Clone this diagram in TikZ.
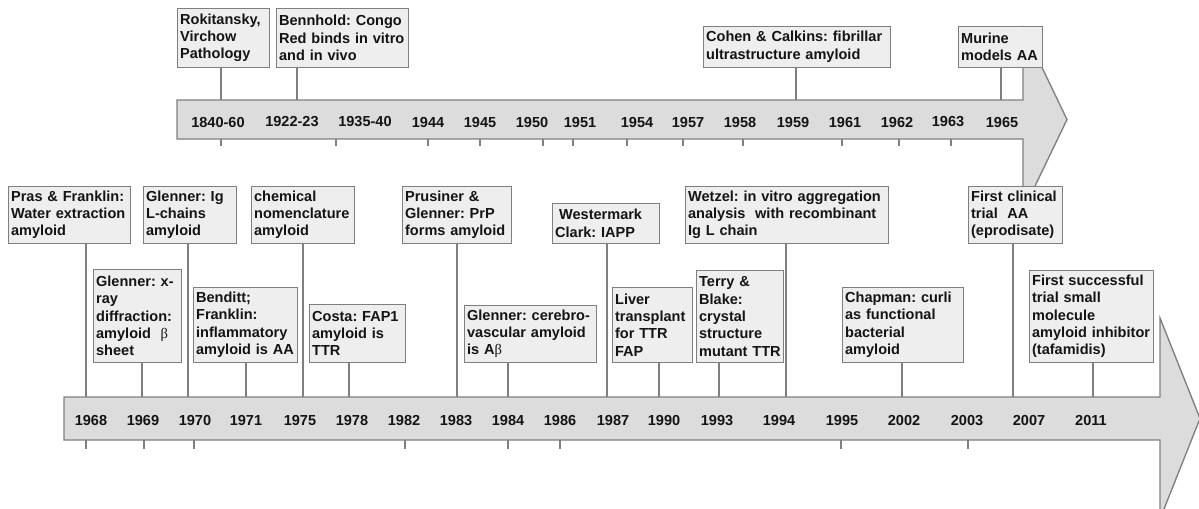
\documentclass[tikz,border=0pt]{standalone}
\usepackage{fontspec}
\setmainfont{Liberation Sans}
\newfontfamily\greekfont{Liberation Serif}
\definecolor{bandgray}{HTML}{DCDCDC}
\definecolor{boxgray}{HTML}{EEEEEE}
\definecolor{linegray}{HTML}{7F7F7F}

\begin{document}
\begin{tikzpicture}[x=0.75pt, y=-0.75pt,
  every node/.style={font=\fontsize{10.9}{13}\selectfont\bfseries\frenchspacing, text=black!92},
  event/.style={draw=linegray, fill=boxgray, line width=0.9pt, align=left, anchor=south west, inner xsep=1.9pt, inner ysep=1pt},
  stem/.style={draw=linegray, line width=1pt},
  band/.style={fill=bandgray, draw=linegray, line width=1pt, line join=miter}]

\useasboundingbox (0,0) rectangle (1199,508);

% the two time arrows
\draw[band] (177,100) -- (1023,100) -- (1023,28) -- (1067,119.5) -- (1023,211) -- (1023,139) -- (177,139) -- cycle;
\draw[band] (64,397) -- (1160,397) -- (1160,318) -- (1200,418.5) -- (1160,519) -- (1160,440) -- (64,440) -- cycle;

\foreach \yr/\x in {1840-60/218, 1922-23/292, 1935-40/365, 1944/428, 1945/480, 1950/532, 1951/580, 1954/637,
                    1957/688, 1958/740, 1959/793, 1961/845, 1962/897, 1963/948, 1965/1002}
   {
	\node (y\yr) at (\x,122) {\yr};
   };
\foreach \yr/\x in {1968/91, 1969/143, 1970/195, 1971/246, 1975/300, 1978/352, 1982/404, 1983/456, 1984/508, 1986/560,
                    1987/613, 1990/664, 1993/717, 1994/779, 1995/842, 2002/904, 2003/967, 2007/1029, 2011/1091}
   {
	\node (y\yr) at (\x,420) {\yr};
   };

% small ticks under the bands
\foreach \x in {221,336,428,480,543,573,627,683,743,842,899,951}
	\draw[stem] (\x,139) -- ++(0,7);
\foreach \x in {86,144,194,405,508,560,841,968}
	\draw[stem] (\x,440) -- ++(0,9);

% events above the upper band
\node[event, text width=65.25pt, minimum height=44.25pt] (rok) at (177,68) {Rokitansky,\\Virchow\\Pathology};
\node[event, text width=95.25pt, minimum height=44.25pt] (ben) at (276,68) {Bennhold: Congo\\Red binds in vitro\\and in vivo};
\node[event, text width=136.5pt, minimum height=30.75pt] (coh) at (703,68) {Cohen \& Calkins: fibrillar\\ultrastructure amyloid};
\node[event, text width=59.25pt, minimum height=30.75pt] (mur) at (958,68) {Murine\\models AA};

% events above the lower band, back row
\node[event, text width=87.75pt, minimum height=42.75pt] (pras) at (8,244) {Pras \& Franklin:\\Water extraction\\amyloid};
\node[event, text width=66pt, minimum height=42.75pt] (gig) at (143,244) {Glenner: Ig\\L-chains\\amyloid};
\node[event, text width=73.5pt, minimum height=42.75pt] (chem) at (251,244) {chemical\\nomenclature\\amyloid};
\node[event, text width=78pt, minimum height=42.75pt] (prus) at (402,244) {Prusiner \&\\Glenner: PrP\\forms amyloid};
\node[event, text width=76.5pt, minimum height=30pt] (west) at (552,244) {\hspace*{3pt}Westermark\\Clark: IAPP};
\node[event, text width=148.5pt, minimum height=42.75pt] (wetz) at (685,244) {Wetzel: in vitro aggregation\\analysis\ \ with recombinant\\Ig L chain};
\node[event, text width=66.75pt, minimum height=42.75pt] (fcl) at (968,244) {First clinical\\trial\ \ AA\\(eprodisate)};

% front row
\node[event, text width=62.25pt, minimum height=69.75pt] (gxr) at (93,363) {Glenner: x-\\ray\\diffraction:\\amyloid\ \ {\greekfont\mdseries β}\\sheet};
\node[event, text width=74.25pt, minimum height=56.25pt] (bnd) at (193,363) {Benditt;\\Franklin:\\inflammatory\\amyloid is AA};
\node[event, text width=68.25pt, minimum height=43.5pt] (cos) at (309,363) {Costa: FAP1\\amyloid is\\TTR};
\node[event, text width=95.25pt, minimum height=42.75pt] (gcv) at (464,363) {Glenner: cerebro-\\vascular amyloid\\is A{\greekfont\mdseries β}};
\node[event, text width=56.25pt, minimum height=56.25pt] (liv) at (612,363) {Liver\\transplant\\for TTR\\FAP};
\node[event, text width=61.5pt, minimum height=69pt] (ter) at (696,363) {Terry \&\\Blake:\\crystal\\structure\\mutant TTR};
\node[event, text width=87pt, minimum height=56.25pt] (chap) at (842,363) {Chapman: curli\\as functional\\bacterial\\amyloid};
\node[event, text width=89.25pt, minimum height=69pt] (fsu) at (1029,363) {First successful\\trial small\\molecule\\amyloid inhibitor\\(tafamidis)};

% stems down to the bands
\foreach \b/\x in {rok/221, ben/297, coh/796, mur/1001}
   {
	\coordinate (f\b) at (\x,100);
	\draw[stem] (\b.south -| f\b) -- (f\b);
   };
\foreach \b/\x in {pras/86, gxr/142, gig/188, bnd/246, chem/303, cos/349, prus/457, gcv/508,
                   west/607, liv/659, ter/719, wetz/786, chap/902, fcl/1013, fsu/1093}
   {
	\coordinate (f\b) at (\x,397);
	\draw[stem] (\b.south -| f\b) -- (f\b);
   };
\end{tikzpicture}
\end{document}
